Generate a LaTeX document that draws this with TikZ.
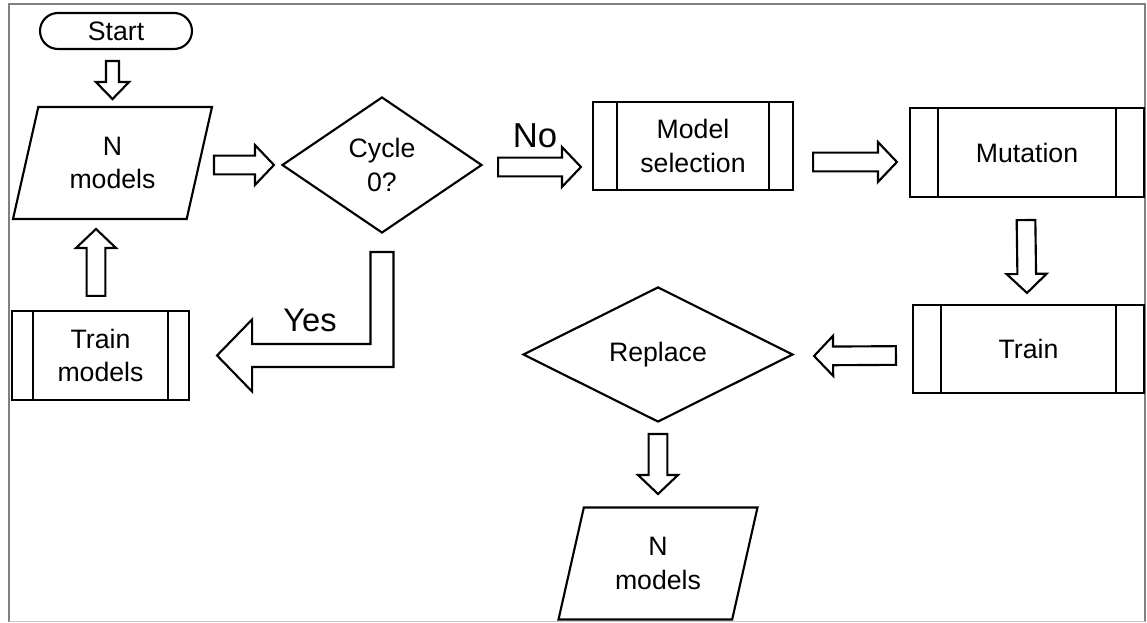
\documentclass[tikz,border=0pt]{standalone}
\usepackage{fontspec}
\setmainfont{Liberation Sans}
\usetikzlibrary{calc,shapes.geometric,shapes.misc}

\newcommand{\boxfont}{\fontsize{20}{25}\selectfont}
\newcommand{\hollowarrow}[5]{%
	\coordinate (ha-a) at #1;
	\coordinate (ha-b) at #2;
	\coordinate (ha-n) at ($(ha-b)!#5!(ha-a)$);
	\draw[blockarrow] ($(ha-a)!#3!90:(ha-b)$) -- ($(ha-n)!#3!90:(ha-b)$) -- ($(ha-n)!#4!90:(ha-b)$) -- (ha-b) -- ($(ha-n)!#4!-90:(ha-b)$) -- ($(ha-n)!#3!-90:(ha-b)$) -- ($(ha-a)!#3!-90:(ha-b)$) -- cycle ;}

\tikzset{every picture/.style={line width=1.6pt}}
\tikzset{
	blockarrow/.style={draw, fill=white, line join=miter},
	terminal/.style={draw, rounded rectangle, minimum width=114pt, minimum height=27pt, inner sep=0pt, font=\boxfont},
	iobox/.style={draw, trapezium, trapezium left angle=64, trapezium right angle=116, trapezium stretches body=true, minimum width=149.25pt, minimum height=84pt, inner sep=0pt, align=center, font=\boxfont},
	decision/.style={draw, diamond, inner sep=0pt, align=center, font=\boxfont},
	subproc/.style={draw, rectangle, inner sep=0pt, align=center, font=\boxfont,
		append after command={([xshift=#1]\tikzlastnode.north west) edge ([xshift=#1]\tikzlastnode.south west)
			([xshift=-#1]\tikzlastnode.north east) edge ([xshift=-#1]\tikzlastnode.south east)}},
	framegray/.style={draw=black!50, line width=1.5pt}
}

\begin{document}
\begin{tikzpicture}[x=0.75pt,y=0.75pt,yscale=-1]
	\useasboundingbox (0,0) rectangle (1147,623);
	%Frame
	\draw[framegray] (9,622) -- (9,4.5) -- (1145,4.5) -- (1145,622) ;
	\draw[draw=black!22, line width=0.75pt] (9,622) -- (1145,622) ;
	%Shape: Terminal
	\node[terminal] (start) at (116,31) {Start};
	%Shape: Parallelogram
	\node[iobox] (nin) at (112.5,163) {N\\models};
	%Shape: Diamond
	\node[decision, minimum width=150pt, minimum height=102pt] (cyc) at (382,165) {Cycle\\0?};
	%Shape: Predefined process
	\node[subproc=18.75pt, minimum width=150pt, minimum height=66pt] (msel) at (693,146) {Model\\selection};
	\node[subproc=21.75pt, minimum width=175.5pt, minimum height=66.75pt] (mut) at (1027,152.5) {Mutation};
	\node[subproc=22pt, minimum width=173.25pt, minimum height=66pt] (trn) at (1028.5,349) {Train};
	%Shape: Diamond
	\node[decision, minimum width=202.5pt, minimum height=101.25pt] (rep) at (658,354.5) {Replace};
	%Shape: Parallelogram
	\node[iobox] (nout) at (658,563.5) {N\\models};
	%Shape: Predefined process
	\node[subproc=16.5pt, minimum width=132.75pt, minimum height=66.75pt] (trm) at (100.5,355.5) {Train\\models};

	%Block Arrows
	\hollowarrow{($(start.south)+(-3.5,11)$)}{($(start.south)+(-3.5,49)$)}{4.9pt}{12.4pt}{12.75pt}
	\hollowarrow{($(cyc.west)+(-67,0)$)}{($(cyc.west)+(-7,0)$)}{7pt}{15pt}{14.25pt}
	\hollowarrow{($(cyc.east)+(15,2)$)}{($(msel.west)+(-11,21)$)}{7pt}{15pt}{14.25pt}
	\hollowarrow{($(msel.east)+(19,16)$)}{($(mut.west)+(-12,9.5)$)}{7pt}{15pt}{14.25pt}
	\hollowarrow{($(mut.south)+(-1,22)$)}{($(trn.north)+(-1.5,-11)$)}{7pt}{15pt}{14.25pt}
	\hollowarrow{($(trn.west)+(-16,6.5)$)}{($(rep.east)+(20,1.5)$)}{7pt}{15pt}{14.25pt}
	\hollowarrow{($(rep.south)+(0,11)$)}{($(nout.center)+(0,-69.5)$)}{7pt}{15pt}{14.25pt}
	\hollowarrow{($(trm.north)+(-4.5,-14)$)}{($(nin.center)+(-16.5,66)$)}{7pt}{15pt}{14.25pt}

	%Bent Arrow
	\coordinate (ytop) at ($(cyc.south)+(0,18)$);
	\coordinate (ytip) at ($(trm.east)+(27,0)$);
	\draw[blockarrow] ($(ytop)+(-11.5,0)$) -- ($(ytop)+(11.5,0)$) -- ($(ytop|-ytip)+(11.5,11.5)$) -- ($(ytip)+(35,11.5)$) -- ($(ytip)+(35,36)$) -- (ytip) -- ($(ytip)+(35,-36)$) -- ($(ytip)+(35,-11.5)$) -- ($(ytop|-ytip)+(-11.5,-11.5)$) -- cycle ;

	%Labels
	\node[font=\fontsize{26}{30}\selectfont] (nolbl) at (535,136) {No};
	\node[font=\fontsize{24.5}{30}\selectfont] (yeslbl) at (310,320) {Yes};
\end{tikzpicture}
\end{document}
